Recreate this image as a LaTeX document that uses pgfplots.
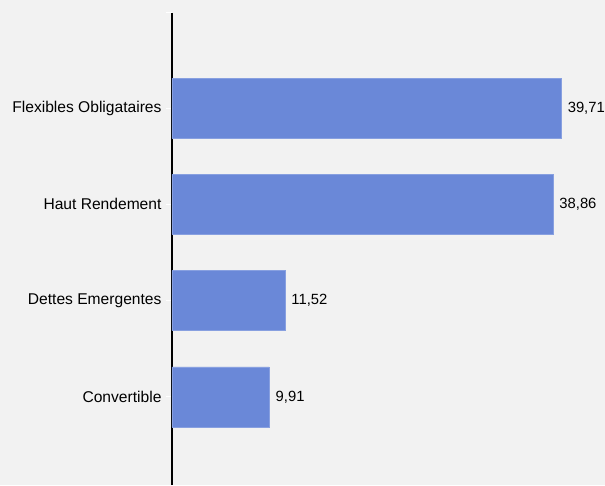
\documentclass[border=0pt]{standalone}
\usepackage{pgfplots}
\pgfplotsset{compat=1.18}
\usepackage{fontspec}
\setmainfont{Liberation Sans}
\definecolor{bgc}{HTML}{F2F2F2}
\definecolor{barc}{HTML}{6A88D8}
\begin{document}
\begin{tikzpicture}
\fill[bgc] (-172pt,0pt) rectangle (433pt,485pt);
\begin{axis}[
  at={(0pt,0pt)}, anchor=south west,
  scale only axis, width=433pt, height=472pt,
  xbar, bar width=60pt,
  xmin=0, xmax=44.18, ymin=-0.914, ymax=3.987,
  axis x line=none,
  axis y line*=left,
  y axis line style={black, line width=1.6pt},
  ytick={0,1,2,3},
  yticklabels={Convertible, Dettes Emergentes, Haut Rendement, Flexibles Obligataires},
  extra y ticks={3.987}, extra y tick labels={},
  tick align=outside,
  major tick length=6pt,
  y tick style={white, line width=1pt},
  yticklabel style={font=\fontsize{15.6}{18}\selectfont, xshift=-1pt},
  tick label style={black},
  /pgf/number format/assume math mode=true,
  nodes near coords={\pgfmathprintnumber[fixed,precision=2,fixed zerofill,use comma]{\pgfplotspointmeta}},
  point meta=x,
  every node near coord/.append style={font=\fontsize{14.8}{17}\selectfont, black, anchor=west, xshift=3pt},
  clip=false,
]
\addplot[fill=barc, draw=barc!80!white, line width=0.5pt] coordinates {
  (9.91,0) (11.52,1) (38.86,2) (39.71,3)
};
\end{axis}
\pgfresetboundingbox
\useasboundingbox (-172pt,0pt) rectangle (433pt,485pt);
\end{tikzpicture}
\end{document}
